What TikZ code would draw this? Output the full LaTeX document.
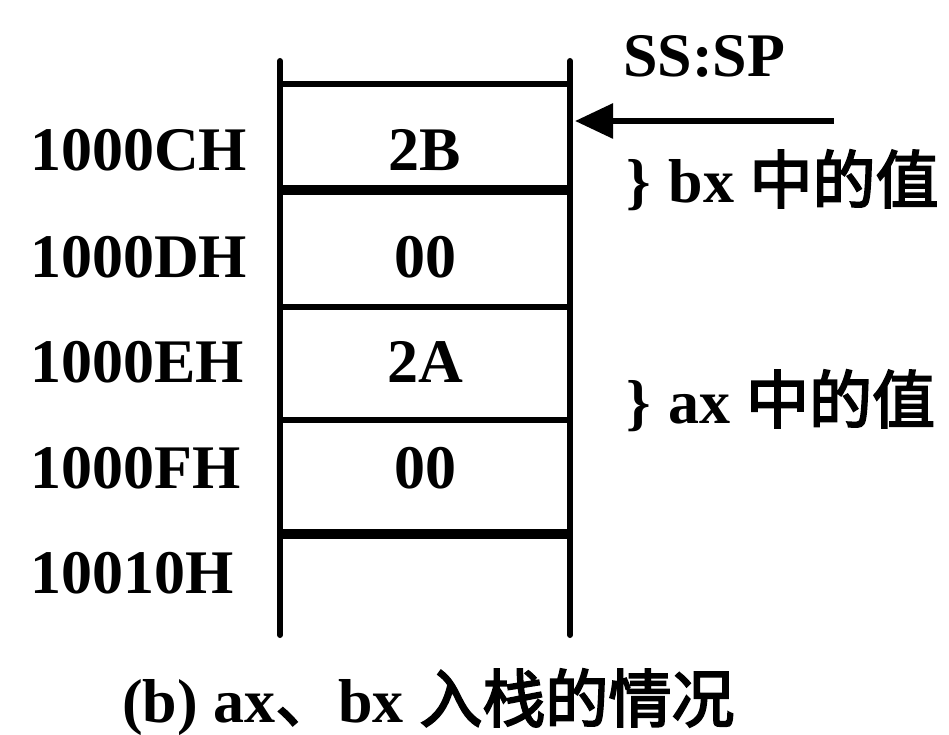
\documentclass[tikz,border=0pt]{standalone}
\usepackage{fontspec}
\setmainfont{Liberation Serif}
\newfontfamily\cjk[FakeBold=3]{Noto Sans CJK SC}
\usetikzlibrary{arrows.meta}
\newcommand{\zh}[1]{{\mdseries\cjk\fontsize{63}{63}\selectfont #1}}
\begin{document}
\begin{tikzpicture}[x=1pt,y=-1pt,
  txt/.style={font=\fontsize{62}{62}\selectfont\bfseries, inner sep=0pt},
  lab/.style={txt, anchor=base west},
  cell/.style={txt, anchor=base},
  wall/.style={line width=6pt, line cap=round},
  sep/.style={line width=6pt},
  heavysep/.style={line width=10pt},
  pointer/.style={line width=6pt, -{Triangle[length=38pt,width=34pt]}}
]
\useasboundingbox (0,0) rectangle (949,735);
% stack frame
\coordinate (lt) at (280,61);
\coordinate (lb) at (280,635);
\coordinate (rt) at (570,61);
\coordinate (rb) at (570,635);
\draw[wall] (lt) -- (lb);
\draw[wall] (rt) -- (rb);
\draw[sep] (280,84) -- (570,84);
\draw[heavysep] (280,190) -- (570,190);
\draw[sep] (280,307) -- (570,307);
\draw[sep] (280,420) -- (570,420);
\draw[heavysep] (280,534) -- (570,534);
% address labels
\node[lab] (aC) at (30,171) {1000CH};
\node[lab] (aD) at (30,277) {1000DH};
\node[lab] (aE) at (30,382) {1000EH};
\node[lab] (aF) at (30,488) {1000FH};
\node[lab] (a10) at (30,593) {10010H};
% cell contents
\node[cell] (c1) at (425,171) {2B};
\node[cell] (c2) at (425,277) {00};
\node[cell] (c3) at (425,382) {2A};
\node[cell] (c4) at (425,488) {00};
% stack pointer
\node[lab] (sssp) at (623,77) {SS:SP};
\coordinate (sptail) at (834,121);
\coordinate (sptip) at (575,121);
\draw[pointer] (sptail) -- (sptip);
% side notes
\node[lab] (bxv) at (626,203) {\}\hspace{18pt}bx \zh{中的值}};
\node[lab] (axv) at (626,423) {\}\hspace{18pt}ax \zh{中的值}};
% caption
\node[lab] (cap) at (122,722) {(b) ax\zh{、}bx \zh{入栈的情况}};
\end{tikzpicture}
\end{document}
